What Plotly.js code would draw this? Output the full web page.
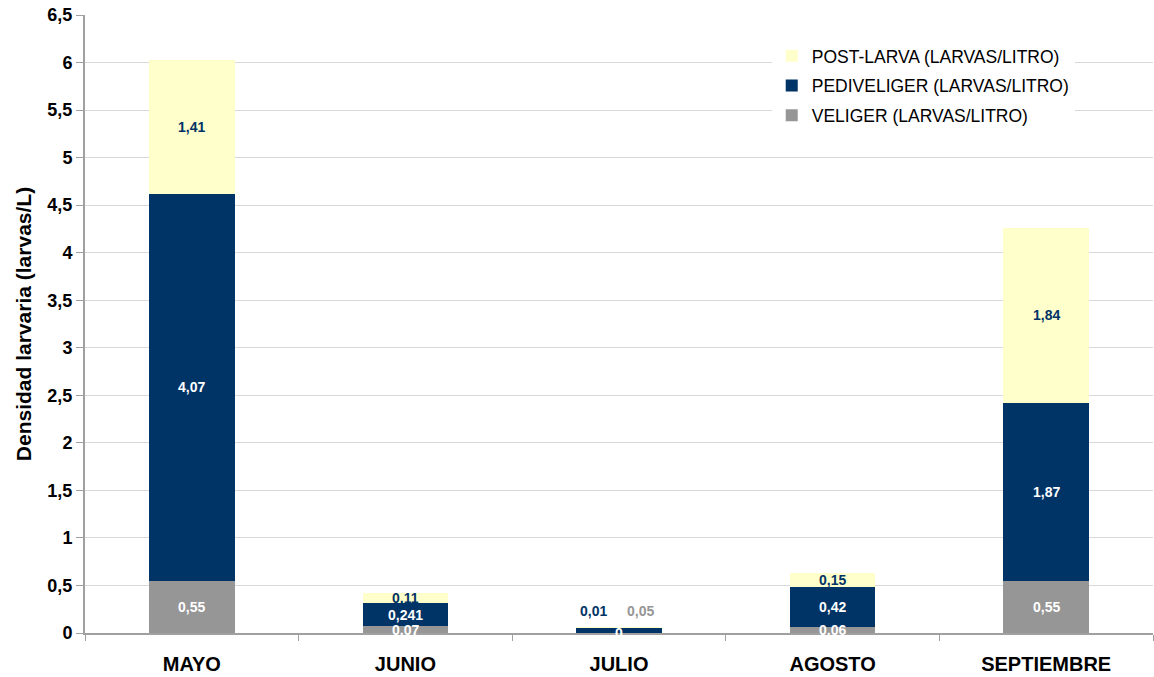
<!DOCTYPE html>
<html>
<head>
<meta charset="utf-8">
<script src="https://cdn.plot.ly/plotly-3.0.1.min.js"></script>
<style>html,body{margin:0;padding:0;background:#fff;}#chart{width:1154px;height:677px;}</style>
</head>
<body>
<div id="chart"></div>
<script>
var categories = ["MAYO", "JUNIO", "JULIO", "AGOSTO", "SEPTIEMBRE"];
var veliger = [0.55, 0.07, 0, 0.06, 0.55];
var pediveliger = [4.07, 0.241, 0.05, 0.42, 1.87];
var postlarva = [1.41, 0.11, 0.01, 0.15, 1.84];
var seriesNames = ["VELIGER (LARVAS/LITRO)", "PEDIVELIGER (LARVAS/LITRO)", "POST-LARVA (LARVAS/LITRO)"];
var yTickVals = [0, 0.5, 1, 1.5, 2, 2.5, 3, 3.5, 4, 4.5, 5, 5.5, 6, 6.5];

var colors = ["#969696", "#003366", "#ffffcc"];
var labelColors = ["#ffffff", "#ffffff", "#003366"];
var FONT = "Liberation Sans, Arial, sans-serif";

var series = [veliger, pediveliger, postlarva];
var traces = series.map(function (vals, k) {
  return {
    type: "bar",
    name: seriesNames[k],
    x: categories,
    y: vals,
    marker: {color: colors[k], line: {width: 0}},
    width: 0.4,
    legendgroup: "g" + k,
    legendrank: 3 - k,
    hoverinfo: "x+y+name"
  };
});

function fmt(v) { return String(v).replace(".", ","); }

var annotations = [];
categories.forEach(function (c, i) {
  var base = 0;
  var total = veliger[i] + pediveliger[i] + postlarva[i];
  series.forEach(function (vals, k) {
    var v = vals[i];
    var a = {
      x: c, y: base + v / 2, xref: "x", yref: "y",
      text: "<b>" + fmt(v) + "</b>", showarrow: false,
      font: {family: FONT, size: 14, color: labelColors[k]}
    };
    // tiny segments (JULIO): labels lifted above the bar, side by side
    if (total < 0.1 && v > 0) {
      a.y = total;
      a.yanchor = "middle";
      a.yshift = 16;
      a.xshift = (k === 2) ? -26 : 21;
      if (k === 1) a.font.color = "#969696";
    }
    annotations.push(a);
    base += v;
  });
});

var layout = {
  width: 1154, height: 677,
  margin: {l: 85, r: 1, t: 15, b: 44},
  paper_bgcolor: "#ffffff", plot_bgcolor: "#ffffff",
  barmode: "stack",
  separators: ",.",
  font: {family: FONT, color: "#000"},
  showlegend: true,
  legend: {
    x: 0.643, y: 0.963, xanchor: "left", yanchor: "top",
    bgcolor: "#ffffff",
    traceorder: "grouped",
    tracegroupgap: 4,
    font: {family: FONT, size: 17.5, color: "#000"},
    itemwidth: 30
  },
  xaxis: {
    type: "category",
    showline: true, linecolor: "#a0a0a0", linewidth: 2,
    ticks: "outside", tickson: "boundaries", ticklen: 6, tickcolor: "#a0a0a0", tickwidth: 1,
    ticklabelstandoff: 12,
    tickfont: {family: FONT, size: 20, color: "#000", weight: "bold"},
    showgrid: false, zeroline: false,
    range: [-0.5, 4.5]
  },
  yaxis: {
    range: [0, 6.5],
    tickvals: yTickVals,
    tickformat: ".1~f",
    showline: true, linecolor: "#a0a0a0", linewidth: 2,
    ticks: "outside", ticklen: 7, tickcolor: "#a0a0a0",
    showgrid: true, gridcolor: "#d9d9d9", gridwidth: 1,
    zeroline: false,
    tickfont: {family: FONT, size: 18, color: "#000", weight: "bold"},
    title: {text: "<b>Densidad larvaria (larvas/L)</b>", font: {family: FONT, size: 21, color: "#000"}, standoff: 10}
  },
  annotations: annotations
};

Plotly.newPlot("chart", traces, layout, {displayModeBar: false, staticPlot: true});
</script>
</body>
</html>
